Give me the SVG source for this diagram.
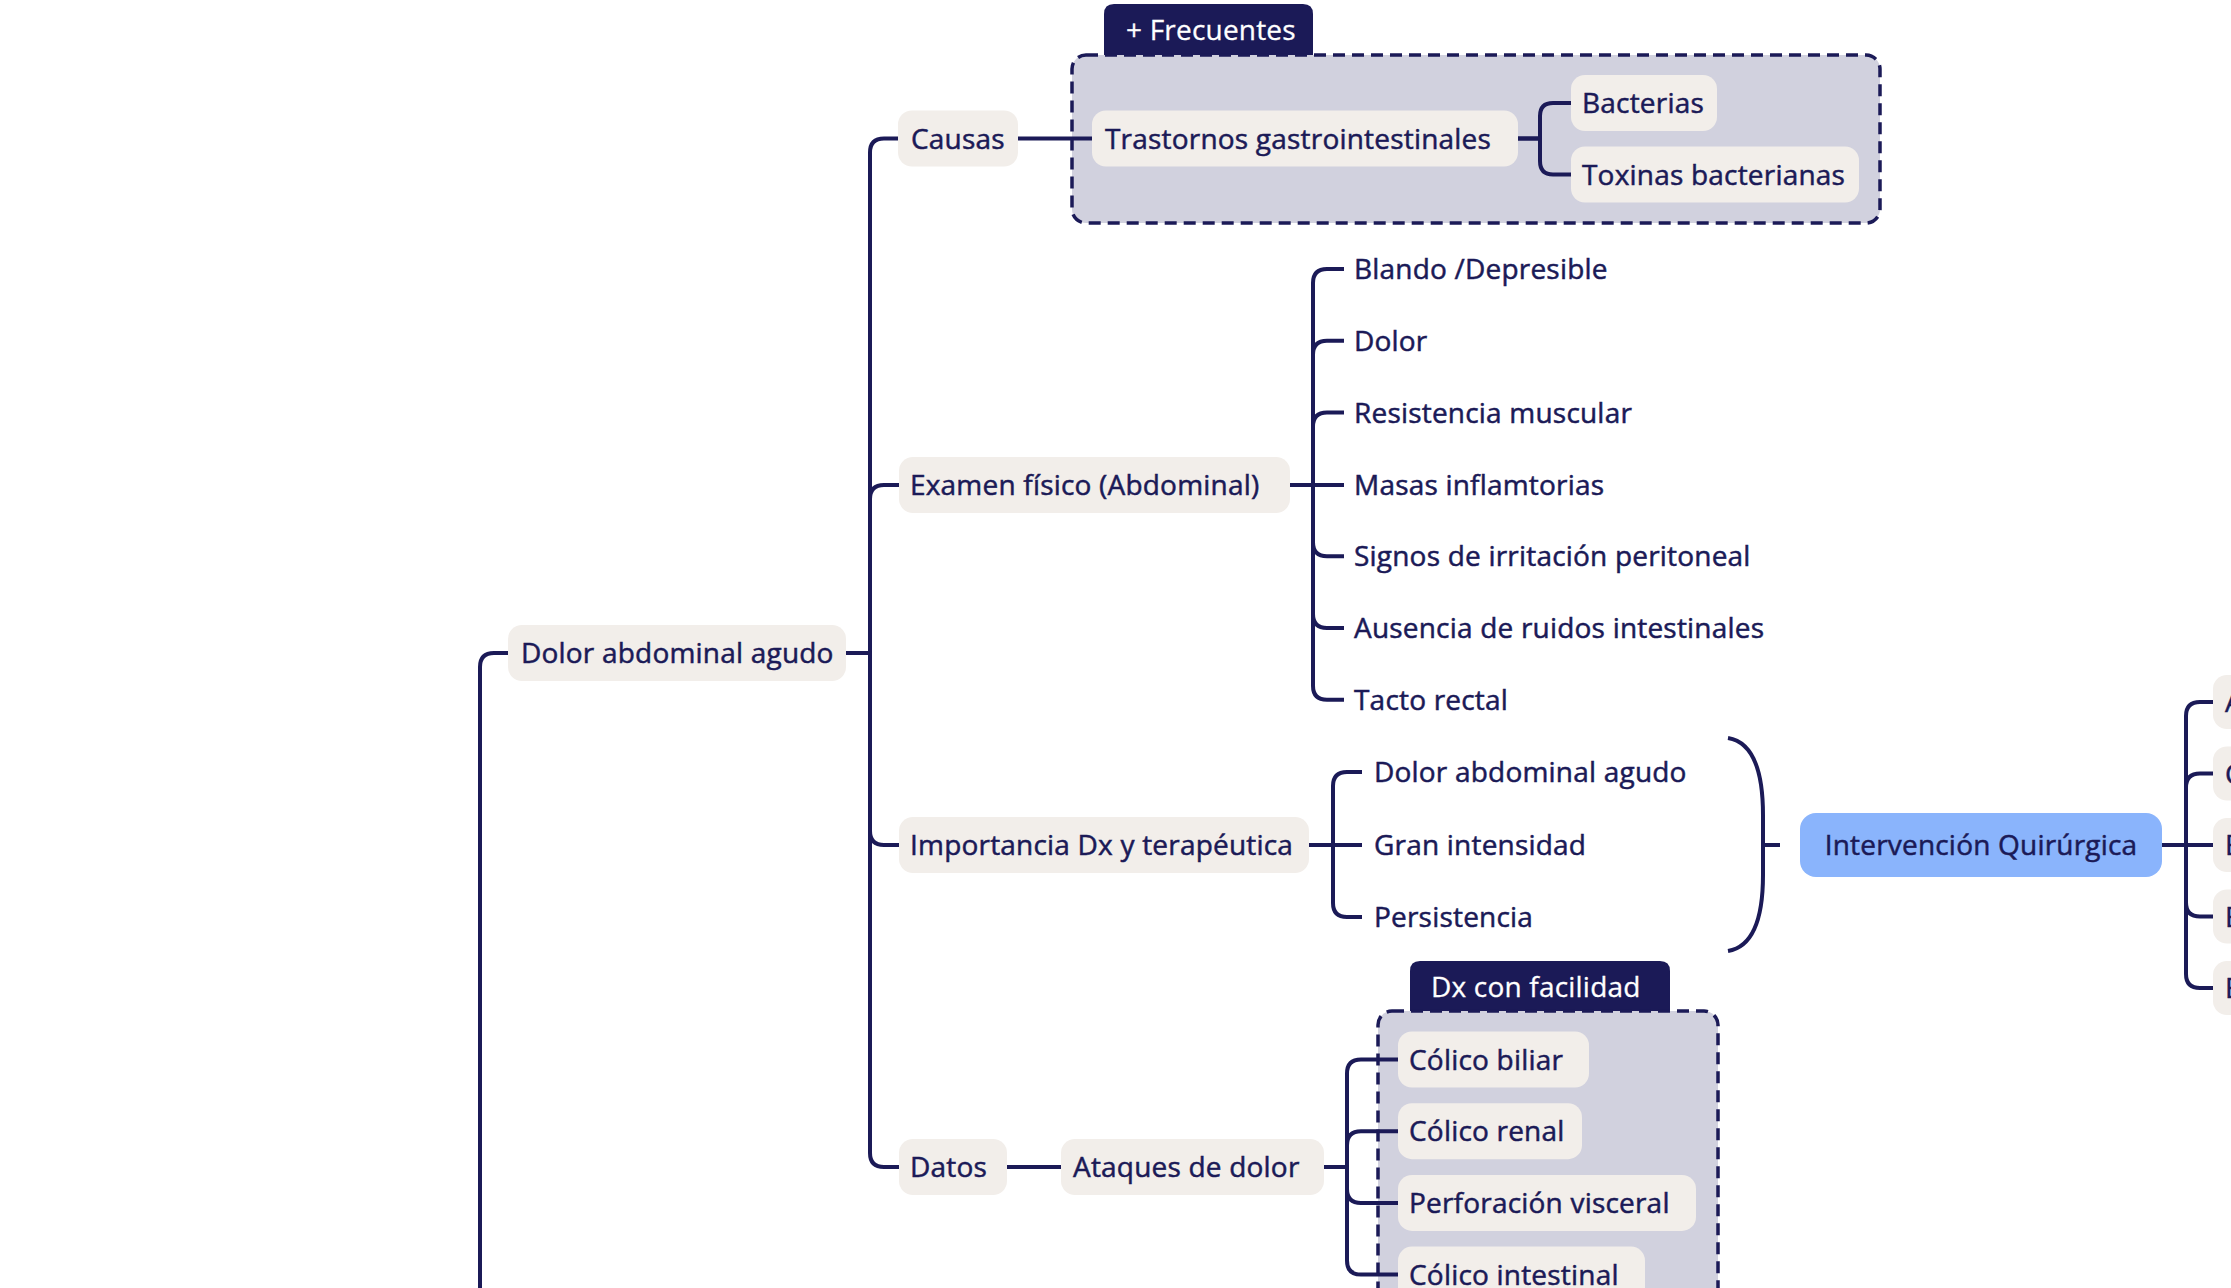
<svg xmlns="http://www.w3.org/2000/svg" width="2231" height="1288" viewBox="0 0 2231 1288">
<style>
.bg{fill:#ffffff}
.n{fill:#F2EEEA}
.hi{fill:#8AB4FC}
.t{font-family:"Open Sans","Liberation Sans",sans-serif;font-size:28px;font-weight:400;letter-spacing:0.2px;fill:#1B1A57;stroke:#1B1A57;stroke-width:0.5}
.tw{font-family:"Open Sans","Liberation Sans",sans-serif;font-size:28px;font-weight:400;letter-spacing:0.2px;fill:#ffffff;stroke:#ffffff;stroke-width:0.3}
.grp{fill:#D1D1DE;stroke:#1B1A57;stroke-width:3.5;stroke-dasharray:12 7}
.tab{fill:#1B1A57}
.c{fill:none;stroke:#1B1A57;stroke-width:4;stroke-linecap:butt;stroke-linejoin:round}
</style>
<rect class="bg" x="0" y="0" width="2231" height="1288"/>

<g id="group-frecuentes">
  <path class="tab" d="M1104,55 V14 Q1104,4 1114,4 H1303 Q1313,4 1313,14 V55 Z"/>
  <rect class="grp" x="1072" y="55" width="808" height="168" rx="14"/>
  <text class="tw" x="1126" y="40">+ Frecuentes</text>
</g>
<g id="group-dx">
  <path class="tab" d="M1410,1011 V971 Q1410,961 1420,961 H1660 Q1670,961 1670,971 V1011 Z"/>
  <rect class="grp" x="1378" y="1011" width="340" height="340" rx="14"/>
  <text class="tw" x="1431" y="997">Dx con facilidad</text>
</g>

<g id="connectors">
  <path class="c" d="M480,1300 V667 Q480,653 494,653 H508"/>
  <path class="c" d="M846,653 H870 V152.5 Q870,138.5 884,138.5 H898"/>
  <path class="c" d="M846,653 H870 V499 Q870,485 884,485 H899"/>
  <path class="c" d="M846,653 H870 V831 Q870,845 884,845 H899"/>
  <path class="c" d="M846,653 H870 V1153 Q870,1167 884,1167 H899"/>
  <path class="c" d="M1018,138.5 H1092"/>
  <path class="c" d="M1518,138.5 H1540 V116 Q1540,103 1553,103 H1571"/>
  <path class="c" d="M1518,138.5 H1540 V161 Q1540,174.5 1553,174.5 H1571"/>
  <path class="c" d="M1290,485 H1313 V283 Q1313,269 1327,269 H1344"/>
  <path class="c" d="M1290,485 H1313 V354.8 Q1313,340.8 1327,340.8 H1344"/>
  <path class="c" d="M1290,485 H1313 V426.6 Q1313,412.6 1327,412.6 H1344"/>
  <path class="c" d="M1290,485 H1344"/>
  <path class="c" d="M1290,485 H1313 V542.2 Q1313,556.2 1327,556.2 H1344"/>
  <path class="c" d="M1290,485 H1313 V614 Q1313,628 1327,628 H1344"/>
  <path class="c" d="M1290,485 H1313 V685.8 Q1313,699.8 1327,699.8 H1344"/>
  <path class="c" d="M1309,845 H1333 V786 Q1333,772 1347,772 H1362"/>
  <path class="c" d="M1309,845 H1362"/>
  <path class="c" d="M1309,845 H1333 V903 Q1333,917 1347,917 H1362"/>
  <path class="c" d="M1728,738 C1752,742 1763,770 1763,815 L1763,875 C1763,920 1752,947 1728,951"/>
  <path class="c" d="M1763,845 H1780"/>
  <path class="c" d="M2162,845 H2186 V716 Q2186,702 2200,702 H2213"/>
  <path class="c" d="M2162,845 H2186 V787.5 Q2186,773.5 2200,773.5 H2213"/>
  <path class="c" d="M2162,845 H2213"/>
  <path class="c" d="M2162,845 H2186 V902.5 Q2186,916.5 2200,916.5 H2213"/>
  <path class="c" d="M2162,845 H2186 V974 Q2186,988 2200,988 H2213"/>
  <path class="c" d="M1007,1167 H1061"/>
  <path class="c" d="M1324,1167 H1347 V1073.5 Q1347,1059.5 1361,1059.5 H1398"/>
  <path class="c" d="M1324,1167 H1347 V1145.2 Q1347,1131.2 1361,1131.2 H1398"/>
  <path class="c" d="M1324,1167 H1347 V1188.9 Q1347,1202.9 1361,1202.9 H1398"/>
  <path class="c" d="M1324,1167 H1347 V1260.6 Q1347,1274.6 1361,1274.6 H1398"/>
</g>

<g id="node-dolor"><rect class="n" x="508" y="625" width="338" height="56" rx="14"/><text class="t" x="521" y="663">Dolor abdominal agudo</text></g>
<g id="node-causas"><rect class="n" x="898" y="110.5" width="120" height="56" rx="14"/><text class="t" x="911" y="148.5">Causas</text></g>
<g id="node-trastornos"><rect class="n" x="1092" y="110.5" width="426" height="56" rx="14"/><text class="t" x="1105" y="148.5">Trastornos gastrointestinales</text></g>
<g id="node-bacterias"><rect class="n" x="1571" y="75" width="146" height="56" rx="14"/><text class="t" x="1582" y="113">Bacterias</text></g>
<g id="node-toxinas"><rect class="n" x="1571" y="146.5" width="288" height="56" rx="14"/><text class="t" x="1582" y="184.5">Toxinas bacterianas</text></g>
<g id="node-examen"><rect class="n" x="899" y="457" width="391" height="56" rx="14"/><text class="t" x="910" y="495">Examen físico (Abdominal)</text></g>
<g id="node-blando"><text class="t" x="1354" y="279">Blando /Depresible</text></g>
<g id="node-dolor2"><text class="t" x="1354" y="350.8">Dolor</text></g>
<g id="node-resistencia"><text class="t" x="1354" y="422.6">Resistencia muscular</text></g>
<g id="node-masas"><text class="t" x="1354" y="495">Masas inflamtorias</text></g>
<g id="node-signos"><text class="t" x="1354" y="566.2">Signos de irritación peritoneal</text></g>
<g id="node-ausencia"><text class="t" x="1354" y="638">Ausencia de ruidos intestinales</text></g>
<g id="node-tacto"><text class="t" x="1354" y="709.8">Tacto rectal</text></g>
<g id="node-importancia"><rect class="n" x="899" y="817" width="410" height="56" rx="14"/><text class="t" x="910" y="855">Importancia Dx y terapéutica</text></g>
<g id="node-dag"><text class="t" x="1374" y="782">Dolor abdominal agudo</text></g>
<g id="node-gran"><text class="t" x="1374" y="855">Gran intensidad</text></g>
<g id="node-persistencia"><text class="t" x="1374" y="927">Persistencia</text></g>
<g id="node-intervencion"><rect class="hi" x="1800" y="813" width="362" height="64" rx="16"/><text class="t" x="1981" y="855" text-anchor="middle">Intervención Quirúrgica</text></g>
<g id="node-r1"><rect class="n" x="2213" y="675" width="120" height="54" rx="14"/><text class="t" x="2225" y="712">A</text></g>
<g id="node-r2"><rect class="n" x="2213" y="746.5" width="120" height="54" rx="14"/><text class="t" x="2225" y="783.5">C</text></g>
<g id="node-r3"><rect class="n" x="2213" y="818" width="120" height="54" rx="14"/><text class="t" x="2225" y="855">E</text></g>
<g id="node-r4"><rect class="n" x="2213" y="889.5" width="120" height="54" rx="14"/><text class="t" x="2225" y="926.5">E</text></g>
<g id="node-r5"><rect class="n" x="2213" y="961" width="120" height="54" rx="14"/><text class="t" x="2225" y="998">E</text></g>
<g id="node-datos"><rect class="n" x="899" y="1139" width="108" height="56" rx="14"/><text class="t" x="910" y="1177">Datos</text></g>
<g id="node-ataques"><rect class="n" x="1061" y="1139" width="263" height="56" rx="14"/><text class="t" x="1073" y="1177">Ataques de dolor</text></g>
<g id="node-biliar"><rect class="n" x="1398" y="1031.5" width="191" height="56" rx="14"/><text class="t" x="1409" y="1069.5">Cólico biliar</text></g>
<g id="node-renal"><rect class="n" x="1398" y="1103.2" width="184" height="56" rx="14"/><text class="t" x="1409" y="1141.2">Cólico renal</text></g>
<g id="node-perforacion"><rect class="n" x="1398" y="1174.9" width="298" height="56" rx="14"/><text class="t" x="1409" y="1212.9">Perforación visceral</text></g>
<g id="node-intestinal"><rect class="n" x="1398" y="1246.6" width="247" height="56" rx="14"/><text class="t" x="1409" y="1284.6">Cólico intestinal</text></g>
</svg>
